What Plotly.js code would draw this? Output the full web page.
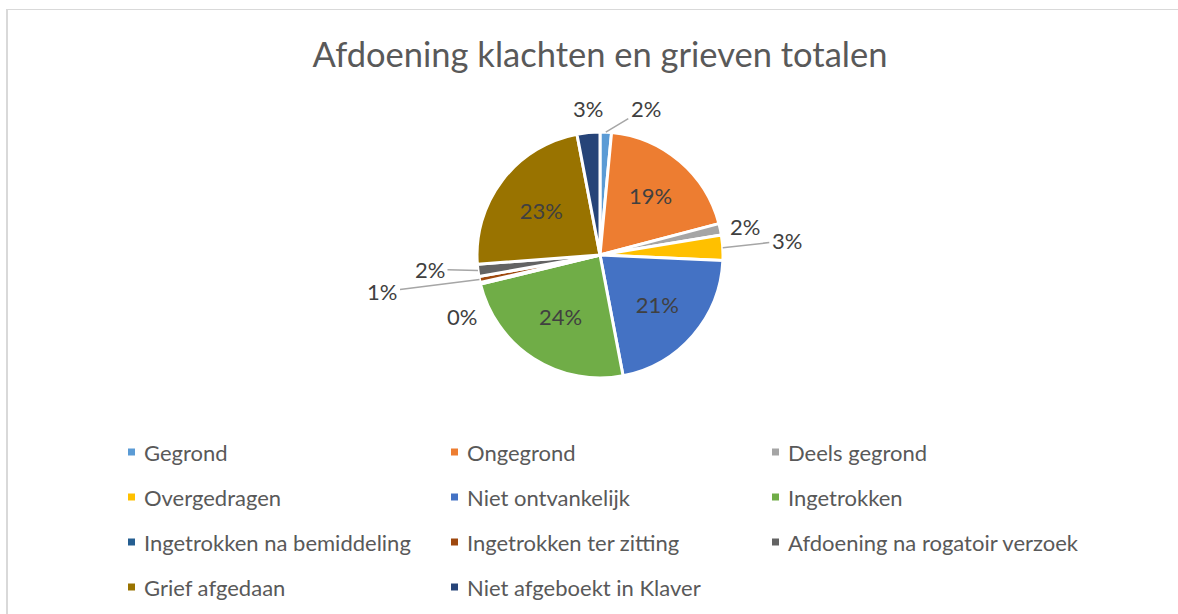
<!DOCTYPE html>
<html>
<head>
<meta charset="utf-8">
<script src="https://cdn.plot.ly/plotly-3.0.1.min.js"></script>
<style>
  html, body { margin: 0; padding: 0; background: #ffffff; overflow: hidden; }
  #chart { width: 1178px; height: 614px; position: absolute; left: 0; top: 0; }
  #frame { position: absolute; left: 6px; top: 9px; width: 1200px; height: 640px;
           border-top: 1px solid #d9d9d9; border-left: 2px solid #d9d9d9; pointer-events: none; }
</style>
</head>
<body>
<div id="chart"></div>
<div id="frame"></div>
<script>
// ---------- data ----------
const chartTitle = 'Afdoening klachten en grieven totalen';
const categories = [
  'Gegrond', 'Ongegrond', 'Deels gegrond',
  'Overgedragen', 'Niet ontvankelijk', 'Ingetrokken',
  'Ingetrokken na bemiddeling', 'Ingetrokken ter zitting', 'Afdoening na rogatoir verzoek',
  'Grief afgedaan', 'Niet afgeboekt in Klaver'
];
const values = [1.5, 19.4, 1.5, 3.3, 21.3, 24.2, 0.2, 0.8, 1.6, 23.2, 3.0];
const colors = [
  '#5B9BD5', '#ED7D31', '#A5A5A5',
  '#FFC000', '#4472C4', '#70AD47',
  '#255E91', '#9E480E', '#636363',
  '#997300', '#264478'
];

// ---------- layout constants ----------
const W = 1178, H = 614;
const M = { l: 22, r: 0, t: 132, b: 236 };
const plotW = W - M.l - M.r, plotH = H - M.t - M.b;
const cx = M.l + plotW / 2, cy = M.t + plotH / 2, R = Math.min(plotW, plotH) / 2;
const FONT = 'Lato, "Open Sans", sans-serif';

// labels of small slices placed outside (pixel offset from slice edge), Excel-style
const outsideLabels = {
  0: { ax: 40, ay: -24, line: true },
  2: { ax: 25, ay: -3, line: false },
  3: { ax: 64, ay: -7, line: true },
  6: { ax: -18, ay: 33, line: false },
  7: { ax: -97, ay: 12, line: true },
  8: { ax: -48, ay: -1, line: true },
  10: { ax: 0, ay: -24, line: false }
};
// legend grid
const legendColX = [128, 451, 772];
const legendRowY = [452, 497, 542, 587];

const px2x = px => (px - M.l) / plotW;
const py2y = py => 1 - (py - M.t) / plotH;

const total = values.reduce((a, b) => a + b, 0);
const textPositions = categories.map((c, i) => (i in outsideLabels) ? 'none' : 'inside');

const annotations = [];
const shapes = [];

// outside percentage labels
let cum = 0;
values.forEach((v, i) => {
  const mid = (cum + v / 2) / total * 2 * Math.PI;
  cum += v;
  if (!(i in outsideLabels)) return;
  const o = outsideLabels[i];
  const ex = cx + R * Math.sin(mid), ey = cy - R * Math.cos(mid);
  const txt = Math.round(v / total * 100) + '%';
  if (o.line) {
    annotations.push({
      xref: 'paper', yref: 'paper', x: px2x(ex), y: py2y(ey),
      ax: o.ax, ay: o.ay, text: txt, showarrow: true, arrowhead: 0,
      arrowwidth: 1.5, arrowcolor: '#A6A6A6', standoff: 0, borderpad: 2,
      font: { family: FONT, size: 22, color: '#404040' }
    });
  } else {
    annotations.push({
      xref: 'paper', yref: 'paper', x: px2x(ex + o.ax), y: py2y(ey + o.ay),
      xanchor: 'center', yanchor: 'middle', text: txt, showarrow: false,
      font: { family: FONT, size: 22, color: '#404040' }
    });
  }
});

// custom legend (3 columns)
categories.forEach((c, i) => {
  const col = i % 3, row = Math.floor(i / 3);
  const mx = legendColX[col], my = legendRowY[row];
  shapes.push({
    type: 'rect', xref: 'paper', yref: 'paper',
    x0: px2x(mx), x1: px2x(mx + 7), y0: py2y(my - 3.5), y1: py2y(my + 3.5),
    fillcolor: colors[i], line: { width: 0 }
  });
  annotations.push({
    xref: 'paper', yref: 'paper', x: px2x(mx + 14), y: py2y(my),
    xanchor: 'left', yanchor: 'middle', text: c, showarrow: false,
    font: { family: FONT, size: 22, color: '#595959' }
  });
});

const trace = {
  type: 'pie',
  labels: categories,
  values: values,
  sort: false,
  direction: 'clockwise',
  rotation: 0,
  marker: { colors: colors, line: { color: '#ffffff', width: 3 } },
  texttemplate: '%{percent:.0%}',
  textposition: textPositions,
  insidetextorientation: 'horizontal',
  insidetextfont: { family: FONT, size: 22, color: '#404040' },
  hoverinfo: 'label+percent',
  showlegend: false,
  domain: { x: [0, 1], y: [0, 1] }
};

const layout = {
  width: W, height: H,
  margin: M,
  paper_bgcolor: '#ffffff',
  plot_bgcolor: '#ffffff',
  showlegend: false,
  title: {
    text: chartTitle,
    font: { family: FONT, size: 34.5, color: '#595959' },
    xref: 'paper', x: 0.5, xanchor: 'center',
    yref: 'container', y: 1 - 55 / H, yanchor: 'middle'
  },
  annotations: annotations,
  shapes: shapes
};

Plotly.newPlot('chart', [trace], layout, { displayModeBar: false, staticPlot: false });
</script>
</body>
</html>
